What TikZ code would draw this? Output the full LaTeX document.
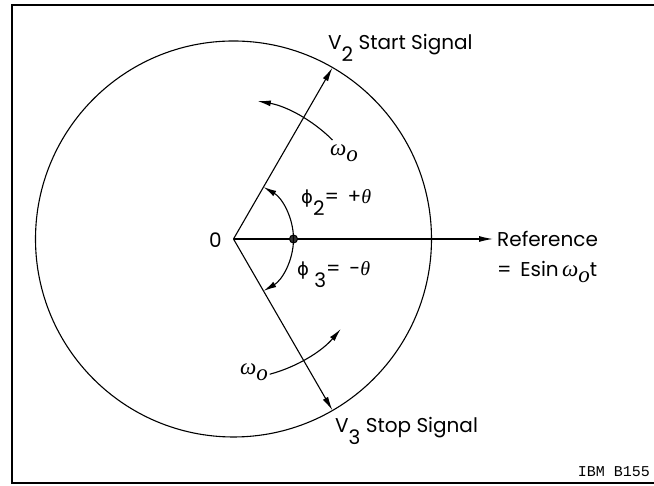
\documentclass[tikz,border=0pt]{standalone}
\usepackage{fontspec}
\setmainfont{Poppins}
\newfontfamily\codefont{Liberation Mono}
\newfontfamily\greekfont{Liberation Serif}
\newfontfamily\phifont{DejaVu Sans}
\usetikzlibrary{
    arrows.meta,
    calc
}
\newcommand{\lowsub}[1]{\raisebox{-0.6em}{#1}}
\newcommand{\omg}{{\greekfont\itshape\fontsize{23}{26}\selectfont ω\raisebox{-0.25em}{o}}}
\newcommand{\phis}{{\phifont\fontsize{18}{22}\selectfont ϕ}}
\newcommand{\thet}{{\greekfont\itshape θ}}
\tikzset{
    vec/.style={line width=1.1pt, -{Latex[length=14pt,width=6pt]}},
    turn/.style={line width=1.1pt, -{Latex[length=13pt,width=6pt]}},
    lbl/.style={font=\fontsize{20}{24}\selectfont, inner sep=0pt},
}

\begin{document}
\begin{tikzpicture}[x=1pt,y=1pt]
            \useasboundingbox (0,0) rectangle (654,486);
            \clip (0,0) rectangle (654,486);
            % Frame
            \draw[line width=2.5pt] (680,481) -- (12,481) -- (12,3) -- (680,3);

            % Circle of the phasors
            \coordinate (O) at (233.5,247);
            \draw[line width=1.1pt] (O) circle[radius=198];
            \node[lbl, anchor=east] (zero) at (222,246) {0};

            % Phasors
            \coordinate (v2) at ($(O)+(60:198)$);
            \coordinate (v3) at ($(O)+(-60:198)$);
            \coordinate (ref) at (493,247);
            \draw[vec] (O) -- (v2);
            \draw[vec] (O) -- (v3);
            \draw[vec] (O) -- (ref);

            % Angles
            \node[circle, draw, line width=1pt, fill=black!80, inner sep=0pt, minimum size=8pt] (dot) at ($(O)+(60,0)$) {};
            \draw[turn] (dot.center) arc[start angle=0, end angle=60, radius=60];
            \draw[turn] (dot.center) arc[start angle=0, end angle=-60, radius=60];
            \node[lbl, anchor=base west] (phi2) at (301,282) {\phis\lowsub{2}=\,\ +\thet};
            \node[lbl, anchor=base west] (phi3) at (297,210) {\phis\ \lowsub{3}=\,\ -\thet};

            % Rotation
            \coordinate (wa) at ($(O)+(45:140)$);
            \coordinate (wb) at ($(O)+(-75:140)$);
            \draw[turn] (wa) arc[start angle=45, end angle=80, radius=140];
            \draw[turn] (wb) arc[start angle=-75, end angle=-40, radius=140];
            \node[lbl] (w2) at (344,333) {\omg};
            \node[lbl] (w3) at (254,114) {\omg};

            % Signal labels
            \node[lbl, anchor=base west] (v2lbl) at (328,436) {V\lowsub{2} Start Signal};
            \node[lbl, anchor=base west] (v3lbl) at (335,53) {V\lowsub{3} Stop Signal};
            \node[lbl, anchor=base west] (reflbl) at (497,239) {Reference};
            \node[lbl, anchor=base west] (eqlbl) at (497,209) {=\, Esin\,\omg t};
            \node[anchor=base east, inner sep=0pt, font=\codefont\fontsize{15}{18}\selectfont] (fig) at (650,9) {IBM B155};
        \end{tikzpicture}
\end{document}
